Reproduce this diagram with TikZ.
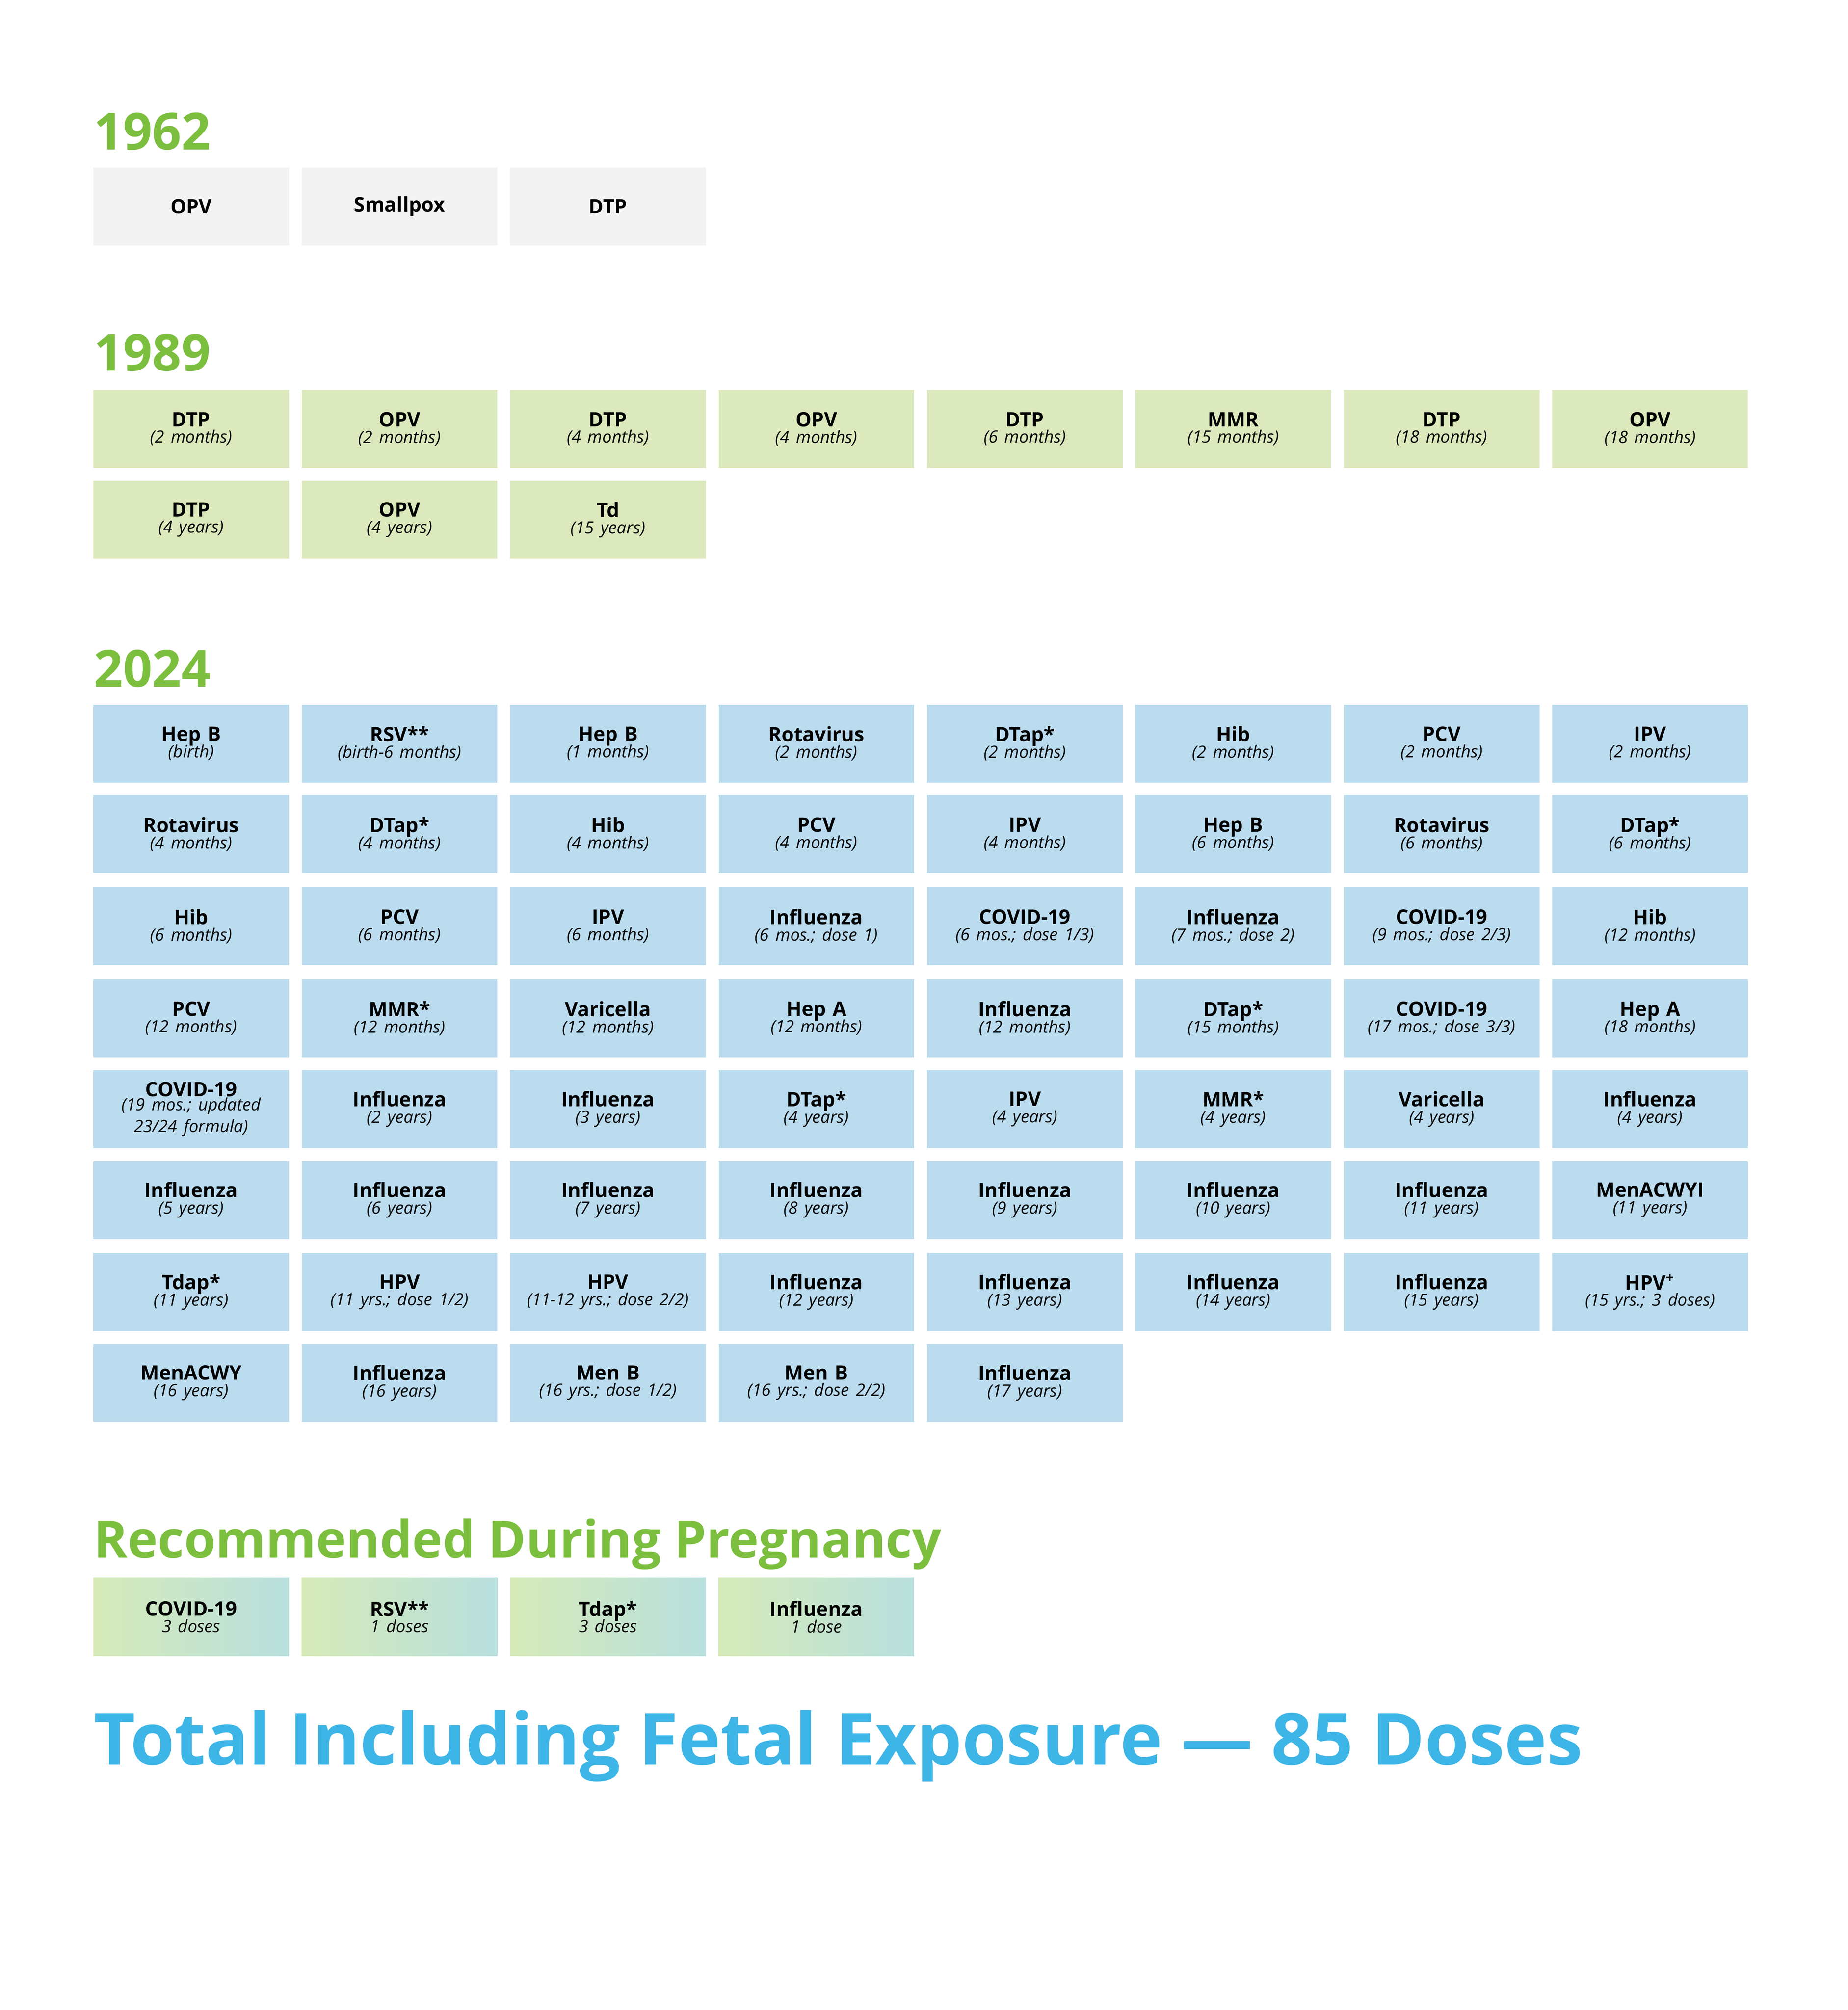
\documentclass[tikz,border=0pt]{standalone}
\usepackage{fontspec}
\setmainfont{Open Sans}
\definecolor{gy}{HTML}{F2F3F2}
\definecolor{gn}{HTML}{DCE9BC}
\definecolor{bl}{HTML}{BBDCEF}
\definecolor{pg1}{HTML}{D6EAB8}
\definecolor{pg2}{HTML}{B9E0DF}
\definecolor{tg}{HTML}{7CBF3F}
\definecolor{tb}{HTML}{3DB5E6}
\newcommand\cell[6]{\node[bx,#1] (#2) at (149.5+163*#3,#4) {\textbf{#5}\\[-2pt]{\itshape\fontsize{6.6}{7.5}\selectfont #6}};}
\begin{document}
\begin{tikzpicture}[x=0.5pt,y=-0.5pt,
 bx/.style={minimum width=76.5pt,minimum height=30.5pt,inner sep=1pt,align=center,text width=74pt,font=\fontsize{7.8}{8.4}\selectfont},
 g/.style={fill=gy},n/.style={fill=gn},b/.style={fill=bl},p/.style={left color=pg1,right color=pg2},
 ttl/.style={anchor=base west,inner sep=0,text=tg,font=\bfseries\fontsize{20}{24}\selectfont}]
\useasboundingbox (0,0) rectangle (1445,1572);
\node[ttl] (t1) at (73,117) {1962};
\node[bx,g] (a1) at (149.5,161.5) {\textbf{OPV}};
\node[bx,g] (a2) at (312.5,161.5) {\textbf{Smallpox}};
\node[bx,g] (a3) at (475.5,161.5) {\textbf{DTP}};
\node[ttl] (t2) at (73,290) {1989};
\def\ra{335.5}\def\rb{406.5}
\cell{n}{b1}{0}{\ra}{DTP}{(2 months)}
\cell{n}{b2}{1}{\ra}{OPV}{(2 months)}
\cell{n}{b3}{2}{\ra}{DTP}{(4 months)}
\cell{n}{b4}{3}{\ra}{OPV}{(4 months)}
\cell{n}{b5}{4}{\ra}{DTP}{(6 months)}
\cell{n}{b6}{5}{\ra}{MMR}{(15 months)}
\cell{n}{b7}{6}{\ra}{DTP}{(18 months)}
\cell{n}{b8}{7}{\ra}{OPV}{(18 months)}
\cell{n}{b9}{0}{\rb}{DTP}{(4 years)}
\cell{n}{b10}{1}{\rb}{OPV}{(4 years)}
\cell{n}{b11}{2}{\rb}{Td}{(15 years)}
\node[ttl] (t3) at (73,537) {2024};
\def\r{581.5}
\cell{b}{c1}{0}{\r}{Hep B}{(birth)}
\cell{b}{c2}{1}{\r}{RSV**}{(birth-6 months)}
\cell{b}{c3}{2}{\r}{Hep B}{(1 months)}
\cell{b}{c4}{3}{\r}{Rotavirus}{(2 months)}
\cell{b}{c5}{4}{\r}{DTap*}{(2 months)}
\cell{b}{c6}{5}{\r}{Hib}{(2 months)}
\cell{b}{c7}{6}{\r}{PCV}{(2 months)}
\cell{b}{c8}{7}{\r}{IPV}{(2 months)}
\def\r{652.5}
\cell{b}{d1}{0}{\r}{Rotavirus}{(4 months)}
\cell{b}{d2}{1}{\r}{DTap*}{(4 months)}
\cell{b}{d3}{2}{\r}{Hib}{(4 months)}
\cell{b}{d4}{3}{\r}{PCV}{(4 months)}
\cell{b}{d5}{4}{\r}{IPV}{(4 months)}
\cell{b}{d6}{5}{\r}{Hep B}{(6 months)}
\cell{b}{d7}{6}{\r}{Rotavirus}{(6 months)}
\cell{b}{d8}{7}{\r}{DTap*}{(6 months)}
\def\r{724.5}
\cell{b}{e1}{0}{\r}{Hib}{(6 months)}
\cell{b}{e2}{1}{\r}{PCV}{(6 months)}
\cell{b}{e3}{2}{\r}{IPV}{(6 months)}
\cell{b}{e4}{3}{\r}{Influenza}{(6 mos.; dose 1)}
\cell{b}{e5}{4}{\r}{COVID-19}{(6 mos.; dose 1/3)}
\cell{b}{e6}{5}{\r}{Influenza}{(7 mos.; dose 2)}
\cell{b}{e7}{6}{\r}{COVID-19}{(9 mos.; dose 2/3)}
\cell{b}{e8}{7}{\r}{Hib}{(12 months)}
\def\r{796.5}
\cell{b}{f1}{0}{\r}{PCV}{(12 months)}
\cell{b}{f2}{1}{\r}{MMR*}{(12 months)}
\cell{b}{f3}{2}{\r}{Varicella}{(12 months)}
\cell{b}{f4}{3}{\r}{Hep A}{(12 months)}
\cell{b}{f5}{4}{\r}{Influenza}{(12 months)}
\cell{b}{f6}{5}{\r}{DTap*}{(15 months)}
\cell{b}{f7}{6}{\r}{COVID-19}{(17 mos.; dose 3/3)}
\cell{b}{f8}{7}{\r}{Hep A}{(18 months)}
\def\r{867.5}
\cell{b}{g1}{0}{\r}{COVID-19}{(19 mos.; updated\\23/24 formula)}
\cell{b}{g2}{1}{\r}{Influenza}{(2 years)}
\cell{b}{g3}{2}{\r}{Influenza}{(3 years)}
\cell{b}{g4}{3}{\r}{DTap*}{(4 years)}
\cell{b}{g5}{4}{\r}{IPV}{(4 years)}
\cell{b}{g6}{5}{\r}{MMR*}{(4 years)}
\cell{b}{g7}{6}{\r}{Varicella}{(4 years)}
\cell{b}{g8}{7}{\r}{Influenza}{(4 years)}
\def\r{938.5}
\cell{b}{h1}{0}{\r}{Influenza}{(5 years)}
\cell{b}{h2}{1}{\r}{Influenza}{(6 years)}
\cell{b}{h3}{2}{\r}{Influenza}{(7 years)}
\cell{b}{h4}{3}{\r}{Influenza}{(8 years)}
\cell{b}{h5}{4}{\r}{Influenza}{(9 years)}
\cell{b}{h6}{5}{\r}{Influenza}{(10 years)}
\cell{b}{h7}{6}{\r}{Influenza}{(11 years)}
\cell{b}{h8}{7}{\r}{MenACWYI}{(11 years)}
\def\r{1010.5}
\cell{b}{i1}{0}{\r}{Tdap*}{(11 years)}
\cell{b}{i2}{1}{\r}{HPV}{(11 yrs.; dose 1/2)}
\cell{b}{i3}{2}{\r}{HPV}{(11-12 yrs.; dose 2/2)}
\cell{b}{i4}{3}{\r}{Influenza}{(12 years)}
\cell{b}{i5}{4}{\r}{Influenza}{(13 years)}
\cell{b}{i6}{5}{\r}{Influenza}{(14 years)}
\cell{b}{i7}{6}{\r}{Influenza}{(15 years)}
\cell{b}{i8}{7}{\r}{HPV\textsuperscript{+}}{(15 yrs.; 3 doses)}
\def\r{1081.5}
\cell{b}{j1}{0}{\r}{MenACWY}{(16 years)}
\cell{b}{j2}{1}{\r}{Influenza}{(16 years)}
\cell{b}{j3}{2}{\r}{Men B}{(16 yrs.; dose 1/2)}
\cell{b}{j4}{3}{\r}{Men B}{(16 yrs.; dose 2/2)}
\cell{b}{j5}{4}{\r}{Influenza}{(17 years)}
\node[ttl] (t4) at (73,1218) {Recommended During Pregnancy};
\def\r{1264.5}
\cell{p}{k1}{0}{\r}{COVID-19}{3 doses}
\cell{p}{k2}{1}{\r}{RSV**}{1 doses}
\cell{p}{k3}{2}{\r}{Tdap*}{3 doses}
\cell{p}{k4}{3}{\r}{Influenza}{1 dose}
\node[ttl,text=tb,font=\bfseries\fontsize{28}{32}\selectfont] (t5) at (73,1380) {Total Including Fetal Exposure — 85 Doses};
\end{tikzpicture}
\end{document}
